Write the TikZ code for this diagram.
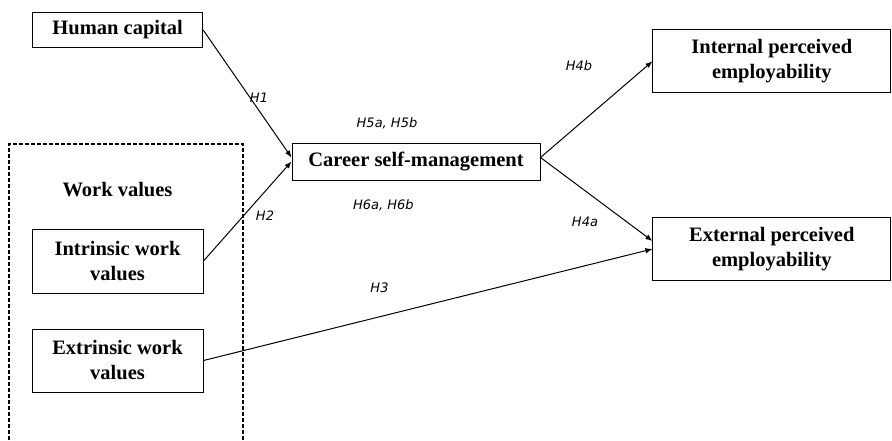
\documentclass[tikz,border=0pt]{standalone}
\usepackage{fontspec}
\setmainfont{Liberation Serif}
\newfontfamily\hypfont{DejaVu Sans}
\usetikzlibrary{arrows.meta}

\begin{document}
\begin{tikzpicture}
        [x=1pt, y=-1pt,
        var/.style={draw, line width=1pt, align=center, inner sep=0pt,
            font=\fontsize{20.5}{25}\selectfont\bfseries},
        path/.style={line width=1pt, -{Latex[length=7pt,width=5.5pt]}},
        hyp/.style={anchor=base, inner sep=0pt, font=\hypfont\itshape\fontsize{13}{15}\selectfont},
        group/.style={line width=1.2pt, dash pattern=on 4pt off 2pt}]

        \useasboundingbox (0,0) rectangle (892,440);

        \node[var, minimum width=170pt, minimum height=35.5pt] (hc) at (117.7,30) {Human capital};
        \node[var, minimum width=171pt, minimum height=64pt] (iwv) at (117.5,261) {Intrinsic work\\values};
        \node[var, minimum width=171pt, minimum height=63pt] (ewv) at (117.5,360.5) {Extrinsic work\\values};
        \node[var, minimum width=248pt, minimum height=37pt] (csm) at (416,161.5) {Career self-management};
        \node[var, minimum width=237.7pt, minimum height=62.7pt] (ipe) at (771.8,61.3) {Internal perceived\\employability};
        \node[var, minimum width=237.7pt, minimum height=63.4pt] (epe) at (771.8,249) {External perceived\\employability};

        % Dashed frame for the work values (runs off the bottom)
        \draw[group] (9,440) -- (9,144) -- (243,144) -- (243,440);
        \node[anchor=base, inner sep=0pt, font=\fontsize{20.5}{25}\selectfont\bfseries] (wv) at (117.5,196) {Work values};

        % paths
        \draw[path] (hc.east) -- ([yshift=4pt]csm.west);
        \draw[path] (iwv.east) -- (csm.west);
        \draw[path] (ewv.east) -- (epe.west);
        \draw[path] ([yshift=4pt]csm.east) -- (ipe.west);
        \draw[path] ([yshift=4pt]csm.east) -- ([yshift=8pt]epe.west);

        % hypothesis labels
        \node[hyp] (h1) at (259,102) {H1};
        \node[hyp] (h2) at (265,220) {H2};
        \node[hyp] (h3) at (379.5,292.7) {H3};
        \node[hyp] (h4a) at (585,226.7) {H4a};
        \node[hyp] (h4b) at (579,70.7) {H4b};
        \node[hyp] (h5) at (387,127) {H5a, H5b};
        \node[hyp] (h6) at (383.3,209) {H6a, H6b};

\end{tikzpicture}
\end{document}
